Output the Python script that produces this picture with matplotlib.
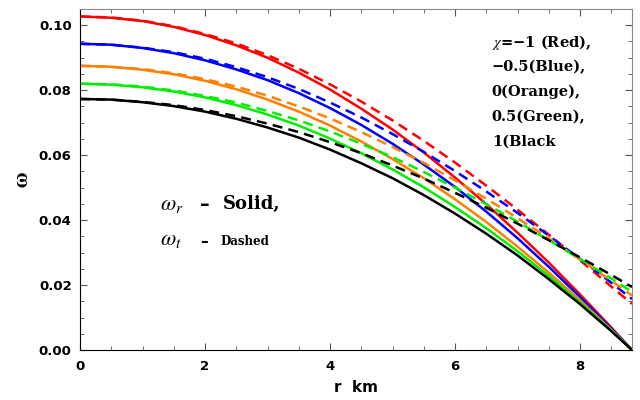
import matplotlib
matplotlib.use("Agg")
import matplotlib.pyplot as plt
from matplotlib.ticker import MultipleLocator, FormatStrFormatter

plt.rcParams["mathtext.fontset"] = "stix"

# radial coordinate (km)
r = [0, 0.5, 1, 1.5, 2, 2.5, 3, 3.5, 4, 4.5, 5, 5.5, 6, 6.5, 7, 7.5, 8, 8.5, 8.83]

# omega_r (solid) for chi = -1, -0.5, 0, 0.5, 1
wr_red    = [0.1027, 0.1023, 0.1013, 0.0995, 0.0970, 0.0938, 0.0900, 0.0854, 0.0802, 0.0743,
             0.0679, 0.0608, 0.0531, 0.0449, 0.0361, 0.0269, 0.0171, 0.0069, 0.0]
wr_blue   = [0.0943, 0.0940, 0.0930, 0.0914, 0.0892, 0.0864, 0.0831, 0.0791, 0.0745, 0.0693,
             0.0635, 0.0571, 0.0502, 0.0426, 0.0344, 0.0256, 0.0163, 0.0066, 0.0]
wr_orange = [0.0875, 0.0872, 0.0863, 0.0849, 0.0829, 0.0803, 0.0771, 0.0734, 0.0691, 0.0642,
             0.0588, 0.0529, 0.0464, 0.0394, 0.0318, 0.0238, 0.0153, 0.0062, 0.0]
wr_green  = [0.0820, 0.0817, 0.0809, 0.0796, 0.0778, 0.0754, 0.0725, 0.0691, 0.0651, 0.0606,
             0.0556, 0.0501, 0.0440, 0.0375, 0.0304, 0.0228, 0.0146, 0.0060, 0.0]
wr_black  = [0.0773, 0.0771, 0.0763, 0.0751, 0.0734, 0.0712, 0.0685, 0.0654, 0.0617, 0.0575,
             0.0529, 0.0477, 0.0420, 0.0358, 0.0291, 0.0218, 0.0141, 0.0058, 0.0]

# omega_t (dashed)
wt_red    = [0.1027, 0.1024, 0.1014, 0.0997, 0.0973, 0.0944, 0.0908, 0.0866, 0.0818, 0.0765,
             0.0707, 0.0644, 0.0577, 0.0506, 0.0432, 0.0355, 0.0276, 0.0195, 0.0142]
wt_blue   = [0.0943, 0.0940, 0.0931, 0.0917, 0.0897, 0.0871, 0.0840, 0.0804, 0.0762, 0.0716,
             0.0665, 0.0610, 0.0551, 0.0488, 0.0422, 0.0352, 0.0280, 0.0207, 0.0157]
wt_orange = [0.0875, 0.0872, 0.0865, 0.0852, 0.0834, 0.0811, 0.0783, 0.0750, 0.0713, 0.0671,
             0.0625, 0.0576, 0.0522, 0.0466, 0.0406, 0.0344, 0.0279, 0.0213, 0.0168]
wt_green  = [0.0820, 0.0818, 0.0811, 0.0799, 0.0782, 0.0762, 0.0736, 0.0707, 0.0673, 0.0635,
             0.0594, 0.0548, 0.0500, 0.0449, 0.0395, 0.0338, 0.0280, 0.0220, 0.0179]
wt_black  = [0.0773, 0.0771, 0.0764, 0.0754, 0.0739, 0.0720, 0.0697, 0.0671, 0.0640, 0.0606,
             0.0568, 0.0528, 0.0484, 0.0438, 0.0389, 0.0338, 0.0285, 0.0231, 0.0194]

solid = [wr_red, wr_blue, wr_orange, wr_green, wr_black]
dashed = [wt_red, wt_blue, wt_orange, wt_green, wt_black]
colors = ["#ff0000", "#0000ff", "#ff8000", "#00ee00", "#000000"]

legend_lines = ["$\\chi$=\u22121 (Red),", "\u22120.5(Blue),", "0(Orange),",
                "0.5(Green),", "1(Black"]

fig = plt.figure(figsize=(6.4, 4.0), dpi=100)
ax = fig.add_axes([0.125, 0.125, 0.8625, 0.8525])

for ys, c in zip(solid, colors):
    ax.plot(r, ys, color=c, lw=1.8)
for ys, c in zip(dashed, colors):
    ax.plot(r, ys, color=c, lw=1.8, linestyle=(0, (4, 2.5)))

ax.set_xlim(0, 8.83)
ax.set_ylim(0, 0.105)
ax.xaxis.set_major_locator(MultipleLocator(2))
ax.xaxis.set_minor_locator(MultipleLocator(0.5))
ax.yaxis.set_major_locator(MultipleLocator(0.02))
ax.yaxis.set_minor_locator(MultipleLocator(0.005))
ax.yaxis.set_major_formatter(FormatStrFormatter("%.2f"))

ax.tick_params(which="both", direction="in", top=True, right=True, color="#555555")
ax.tick_params(which="major", length=5, width=0.8)
ax.tick_params(which="minor", length=3, width=0.6)
ax.tick_params(axis="x", pad=7)
ax.tick_params(axis="y", pad=6)
for lab in ax.get_xticklabels() + ax.get_yticklabels():
    lab.set_fontfamily("DejaVu Sans")
    lab.set_fontweight("bold")
    lab.set_fontsize(9.5)

for sp in ("left", "bottom"):
    ax.spines[sp].set_color("black")
for sp in ("top", "right"):
    ax.spines[sp].set_color("#888888")

ax.set_xlabel("r  km", fontsize=11, fontweight="bold", labelpad=5)
ax.set_ylabel("$\\mathbf{\\omega}$", fontsize=15, labelpad=5)

# colour key
for i, t in enumerate(legend_lines):
    ax.text(0.746, 0.903 - i * 0.0733, t, transform=ax.transAxes, fontsize=10.5,
            fontweight="bold", fontfamily="DejaVu Serif", va="center", ha="left")

# line-style key
ax.text(0.145, 0.425, "$\\omega_r$", transform=ax.transAxes, fontsize=16, va="center")
ax.text(0.218, 0.427, "\u2013", transform=ax.transAxes, fontsize=14,
        fontweight="bold", va="center")
ax.text(0.259, 0.427, "Solid,", transform=ax.transAxes, fontsize=13,
        fontweight="bold", fontfamily="DejaVu Serif", va="center")
ax.text(0.145, 0.322, "$\\omega_t$", transform=ax.transAxes, fontsize=16, va="center")
ax.text(0.218, 0.318, "\u2013", transform=ax.transAxes, fontsize=11,
        fontweight="bold", va="center")
ax.text(0.254, 0.318, "Dashed", transform=ax.transAxes, fontsize=8.5,
        fontweight="bold", fontfamily="DejaVu Serif", va="center")

fig.savefig("out.png", dpi=100, facecolor="white")
